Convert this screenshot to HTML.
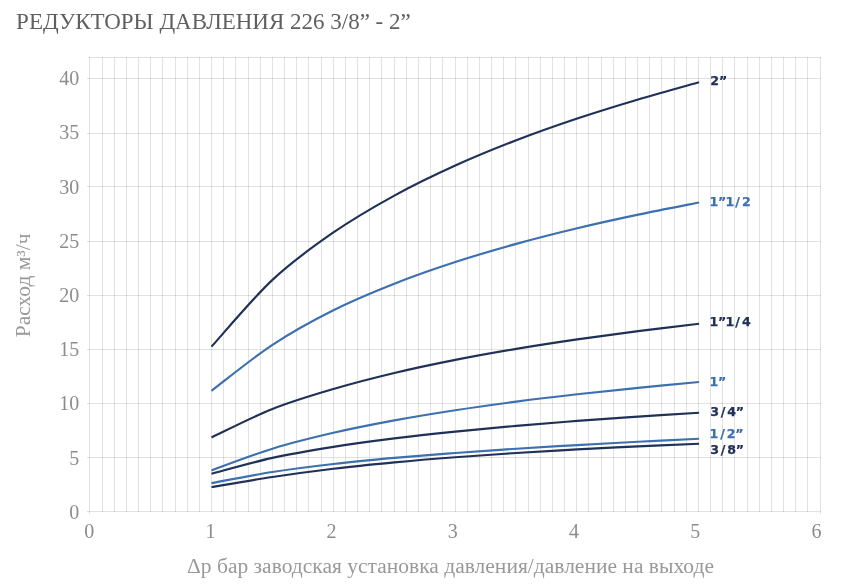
<!DOCTYPE html>
<html lang="ru"><head><meta charset="utf-8"><title>Редукторы давления 226</title>
<style>html,body{margin:0;padding:0;background:#fff}body{width:841px;height:586px;position:relative;overflow:hidden}</style>
</head><body>
<svg width="841" height="586" viewBox="0 0 841 586" style="position:absolute;left:0;top:0">
<g stroke="#000" stroke-opacity="0.115" stroke-width="1" fill="none" shape-rendering="crispEdges"><path d="M89.5 57.0 V514.0 M102.5 57.0 V512.0 M114.5 57.0 V512.0 M126.5 57.0 V512.0 M138.5 57.0 V512.0 M150.5 57.0 V512.0 M162.5 57.0 V512.0 M175.5 57.0 V512.0 M187.5 57.0 V512.0 M199.5 57.0 V512.0 M211.5 57.0 V512.0 M223.5 57.0 V512.0 M235.5 57.0 V512.0 M248.5 57.0 V512.0 M260.5 57.0 V512.0 M272.5 57.0 V512.0 M284.5 57.0 V512.0 M296.5 57.0 V512.0 M308.5 57.0 V512.0 M321.5 57.0 V512.0 M333.5 57.0 V512.0 M345.5 57.0 V512.0 M357.5 57.0 V512.0 M369.5 57.0 V512.0 M381.5 57.0 V512.0 M394.5 57.0 V512.0 M406.5 57.0 V512.0 M418.5 57.0 V512.0 M430.5 57.0 V512.0 M442.5 57.0 V512.0 M455.5 57.0 V512.0 M467.5 57.0 V512.0 M479.5 57.0 V512.0 M491.5 57.0 V512.0 M503.5 57.0 V512.0 M515.5 57.0 V512.0 M528.5 57.0 V512.0 M540.5 57.0 V512.0 M552.5 57.0 V512.0 M564.5 57.0 V512.0 M576.5 57.0 V512.0 M588.5 57.0 V512.0 M601.5 57.0 V512.0 M613.5 57.0 V512.0 M625.5 57.0 V512.0 M637.5 57.0 V512.0 M649.5 57.0 V512.0 M661.5 57.0 V512.0 M674.5 57.0 V512.0 M686.5 57.0 V512.0 M698.5 57.0 V512.0 M710.5 57.0 V512.0 M722.5 57.0 V512.0 M734.5 57.0 V512.0 M747.5 57.0 V512.0 M759.5 57.0 V512.0 M771.5 57.0 V512.0 M783.5 57.0 V512.0 M795.5 57.0 V512.0 M807.5 57.0 V512.0 M820.5 57.0 V514.0"/><path d="M87.0 78.5 H821.0 M87.0 133.5 H821.0 M87.0 186.5 H821.0 M87.0 241.5 H821.0 M87.0 295.5 H821.0 M87.0 349.5 H821.0 M87.0 403.5 H821.0 M87.0 457.5 H821.0 M87.0 511.5 H821.0 M89.0 57.5 H821.0"/></g>
<path d="M211.50 346.64 C221.66 335.50 252.13 298.87 272.45 279.85 C292.77 260.82 313.08 246.52 333.40 232.48 C353.72 218.43 374.03 206.74 394.35 195.58 C414.67 184.42 434.98 174.75 455.30 165.54 C475.62 156.32 495.93 148.11 516.25 140.27 C536.57 132.43 556.88 125.32 577.20 118.52 C597.52 111.72 617.83 105.52 638.15 99.46 C658.47 93.40 688.94 85.06 699.10 82.18" stroke="#203158" stroke-width="2.15" fill="none"/>
<path d="M211.50 390.80 C221.66 383.13 252.13 358.23 272.45 344.80 C292.77 331.36 313.08 320.41 333.40 310.22 C353.72 300.03 374.03 291.71 394.35 283.68 C414.67 275.65 434.98 268.67 455.30 262.04 C475.62 255.40 495.93 249.49 516.25 243.86 C536.57 238.23 556.88 233.13 577.20 228.27 C597.52 223.40 617.83 218.96 638.15 214.66 C658.47 210.36 688.94 204.48 699.10 202.45" stroke="#3d70ae" stroke-width="2.15" fill="none"/>
<path d="M211.50 437.46 C221.66 432.71 252.13 417.06 272.45 408.99 C292.77 400.92 313.08 395.03 333.40 389.04 C353.72 383.04 374.03 377.87 394.35 373.02 C414.67 368.16 434.98 363.93 455.30 359.91 C475.62 355.89 495.93 352.30 516.25 348.87 C536.57 345.45 556.88 342.35 577.20 339.38 C597.52 336.42 617.83 333.68 638.15 331.08 C658.47 328.49 688.94 325.01 699.10 323.79" stroke="#203158" stroke-width="2.15" fill="none"/>
<path d="M211.50 470.37 C221.66 466.76 252.13 454.97 272.45 448.72 C292.77 442.46 313.08 437.54 333.40 432.82 C353.72 428.10 374.03 424.16 394.35 420.39 C414.67 416.62 434.98 413.34 455.30 410.22 C475.62 407.10 495.93 404.31 516.25 401.66 C536.57 399.00 556.88 396.59 577.20 394.29 C597.52 391.99 617.83 389.89 638.15 387.85 C658.47 385.81 688.94 383.00 699.10 382.03" stroke="#3d70ae" stroke-width="2.15" fill="none"/>
<path d="M211.50 473.72 C221.66 471.09 252.13 462.39 272.45 457.92 C292.77 453.44 313.08 450.12 333.40 446.87 C353.72 443.62 374.03 440.97 394.35 438.43 C414.67 435.88 434.98 433.69 455.30 431.59 C475.62 429.50 495.93 427.63 516.25 425.85 C536.57 424.08 556.88 422.46 577.20 420.91 C597.52 419.37 617.83 417.93 638.15 416.58 C658.47 415.22 688.94 413.41 699.10 412.78" stroke="#203158" stroke-width="2.15" fill="none"/>
<path d="M211.50 483.14 C221.66 481.28 252.13 475.18 272.45 471.99 C292.77 468.80 313.08 466.34 333.40 464.00 C353.72 461.66 374.03 459.77 394.35 457.93 C414.67 456.09 434.98 454.49 455.30 452.96 C475.62 451.43 495.93 450.05 516.25 448.74 C536.57 447.42 556.88 446.22 577.20 445.06 C597.52 443.90 617.83 442.84 638.15 441.79 C658.47 440.74 688.94 439.26 699.10 438.76" stroke="#3d70ae" stroke-width="2.15" fill="none"/>
<path d="M211.50 487.04 C221.66 485.36 252.13 480.02 272.45 476.97 C292.77 473.91 313.08 471.13 333.40 468.70 C353.72 466.26 374.03 464.28 394.35 462.36 C414.67 460.45 434.98 458.79 455.30 457.23 C475.62 455.67 495.93 454.29 516.25 452.99 C536.57 451.69 556.88 450.53 577.20 449.43 C597.52 448.33 617.83 447.36 638.15 446.41 C658.47 445.46 688.94 444.18 699.10 443.74" stroke="#203158" stroke-width="2.15" fill="none"/>
<g font-family="'Liberation Serif', serif" font-size="20" fill="#8c8c8c">
<text x="79.2" y="85.10" text-anchor="end">40</text>
<text x="79.2" y="139.32" text-anchor="end">35</text>
<text x="79.2" y="193.54" text-anchor="end">30</text>
<text x="79.2" y="247.76" text-anchor="end">25</text>
<text x="79.2" y="301.98" text-anchor="end">20</text>
<text x="79.2" y="356.20" text-anchor="end">15</text>
<text x="79.2" y="410.42" text-anchor="end">10</text>
<text x="79.2" y="464.64" text-anchor="end">5</text>
<text x="79.2" y="518.86" text-anchor="end">0</text>
<text x="89.2" y="537.9" text-anchor="middle">0</text>
<text x="210.4" y="537.9" text-anchor="middle">1</text>
<text x="331.6" y="537.9" text-anchor="middle">2</text>
<text x="452.8" y="537.9" text-anchor="middle">3</text>
<text x="574.0" y="537.9" text-anchor="middle">4</text>
<text x="695.2" y="537.9" text-anchor="middle">5</text>
<text x="816.4" y="537.9" text-anchor="middle">6</text>
<text x="187" y="573.3" textLength="527" lengthAdjust="spacingAndGlyphs" fill="#999">Δp бар заводская установка давления/давление на выходе</text>
<text transform="translate(29.8 337.3) rotate(-90)" textLength="103.8" lengthAdjust="spacingAndGlyphs" fill="#999">Расход м³/ч</text>
</g>
<text x="16.1" y="28.8" textLength="394.6" lengthAdjust="spacingAndGlyphs" font-family="'Liberation Serif', serif" font-size="23.8" fill="#5f5f5f">РЕДУКТОРЫ ДАВЛЕНИЯ 226 3/8” - 2”</text>
<g font-family="'DejaVu Sans', 'Liberation Sans', sans-serif" font-size="12.6" font-weight="bold" letter-spacing="0.8" stroke-width="0.25">
<text x="710.2" y="85.2" dx="0 -0.8" fill="#203158" stroke="#203158">2”</text>
<text x="709.6" y="205.5" dx="0 -1.2 -1.6 0.3 1.3" fill="#3d70ae" stroke="#3d70ae">1”1/2</text>
<text x="709.6" y="326.1" dx="0 -1.2 -1.6 0.3 1.3" fill="#203158" stroke="#203158">1”1/4</text>
<text x="709.6" y="386.3" dx="0 -1.2" fill="#3d70ae" stroke="#3d70ae">1”</text>
<text x="710.2" y="416.2" dx="0 1.0 1.15 -1.15" fill="#203158" stroke="#203158">3/4”</text>
<text x="709.6" y="438.3" dx="0 1.0 1.15 -1.15" fill="#3d70ae" stroke="#3d70ae">1/2”</text>
<text x="710.2" y="454.0" dx="0 1.0 1.15 -1.15" fill="#203158" stroke="#203158">3/8”</text>
</g>
</svg>
</body></html>
